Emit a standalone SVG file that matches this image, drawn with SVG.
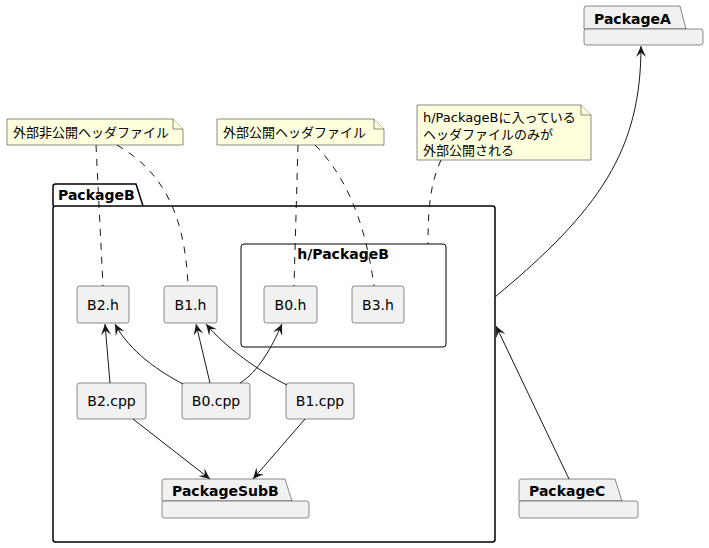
<svg xmlns="http://www.w3.org/2000/svg" width="709" height="548" viewBox="0 0 709 548">
<style>
.pkg{fill:#F1F1F1;stroke:#181818;stroke-width:0.5}
.pkgb{fill:none;stroke:#000;stroke-width:1.5}
.frame{fill:none;stroke:#000;stroke-width:1}
.node{fill:#F1F1F1;stroke:#181818;stroke-width:0.5}
.note{fill:#FEFFDD;stroke:#181818;stroke-width:0.5}
.t{font-family:"DejaVu Sans",sans-serif;font-size:14px;fill:#000}
.tc{text-anchor:middle}
.b{font-weight:bold}
.n{font-family:"DejaVu Sans","Noto Sans CJK JP",sans-serif;font-size:13px;fill:#000}
.arr{fill:none;stroke:#181818;stroke-width:1;marker-end:url(#ah)}
.dash{fill:none;stroke:#181818;stroke-width:1;stroke-dasharray:7,7}
</style>
<defs>
<marker id="ah" viewBox="0 0 11 10" refX="11" refY="5" markerWidth="11" markerHeight="10" markerUnits="userSpaceOnUse" orient="auto">
<path d="M0,0 L11,5 L0,10 L4.5,5 Z" fill="#181818"/>
</marker>
</defs>
<g id="PackageA">
<path class="pkg" d="M584,29 L584,8.5 Q584,6 586.5,6 L680,6 L686,29 Z"/>
<rect class="pkg" x="584" y="29" width="119" height="16" rx="2.5"/>
<text class="t b" x="594" y="24">PackageA</text>
</g>
<g id="PackageB">
<path class="pkgb" d="M53,206 L53,186.5 Q53,184 55.5,184 L136,184 L143,206"/>
<rect class="pkgb" x="53" y="206" width="442" height="336" rx="2.5"/>
<text class="t b" x="58" y="200">PackageB</text>
</g>
<g id="hPackageB">
<rect class="frame" x="241" y="244" width="205" height="103" rx="3"/>
<text class="t b tc" x="343" y="259">h/PackageB</text>
</g>
<g id="B2h"><rect class="node" x="77" y="286" width="52" height="37" rx="2.5"/><text class="t tc" x="103" y="309.5">B2.h</text></g>
<g id="B1h"><rect class="node" x="164" y="286" width="53" height="37" rx="2.5"/><text class="t tc" x="190.5" y="309.5">B1.h</text></g>
<g id="B0h"><rect class="node" x="264" y="286" width="53" height="37" rx="2.5"/><text class="t tc" x="290.5" y="309.5">B0.h</text></g>
<g id="B3h"><rect class="node" x="352" y="286" width="52" height="37" rx="2.5"/><text class="t tc" x="378" y="309.5">B3.h</text></g>
<g id="B2cpp"><rect class="node" x="77" y="383" width="69" height="36" rx="2.5"/><text class="t tc" x="111.5" y="406">B2.cpp</text></g>
<g id="B0cpp"><rect class="node" x="182" y="383" width="68" height="36" rx="2.5"/><text class="t tc" x="216" y="406">B0.cpp</text></g>
<g id="B1cpp"><rect class="node" x="286" y="383" width="68" height="36" rx="2.5"/><text class="t tc" x="320" y="406">B1.cpp</text></g>
<g id="PackageSubB">
<path class="pkg" d="M162,501 L162,481.5 Q162,479 164.5,479 L285,479 L292,501 Z"/>
<rect class="pkg" x="162" y="501" width="147" height="17" rx="2.5"/>
<text class="t b" x="172" y="496">PackageSubB</text>
</g>
<g id="PackageC">
<path class="pkg" d="M519,501 L519,481.5 Q519,479 521.5,479 L615,479 L622,501 Z"/>
<rect class="pkg" x="519" y="501" width="119" height="17" rx="2.5"/>
<text class="t b" x="529" y="496">PackageC</text>
</g>
<g id="note1">
<path class="note" d="M7,119 L7,145 L183,145 L183,129 L173,119 Z"/>
<path class="note" d="M173,119 L173,129 L183,129"/>
<text class="n" x="13" y="137">外部非公開ヘッダファイル</text>
</g>
<g id="note2">
<path class="note" d="M217,119 L217,145 L384,145 L384,129 L374,119 Z"/>
<path class="note" d="M374,119 L374,129 L384,129"/>
<text class="n" x="223" y="137">外部公開ヘッダファイル</text>
</g>
<g id="note3">
<path class="note" d="M417,105 L417,160 L591,160 L591,115 L581,105 Z"/>
<path class="note" d="M581,105 L581,115 L591,115"/>
<text class="n" x="423" y="122">h/PackageBに入っている</text>
<text class="n" x="423" y="138.5">ヘッダファイルのみが</text>
<text class="n" x="423" y="155">外部公開される</text>
</g>
<g id="connectors">
<path class="dash" d="M96,145 L103,286"/>
<path class="dash" d="M117,145 C160,170 185,210 188,286"/>
<path class="dash" d="M298,145 L294,286"/>
<path class="dash" d="M315,145 C345,175 365,220 374,286"/>
<path class="dash" d="M441,160 C432,180 428,200 428,244"/>
<path class="arr" d="M110,383 L105,324"/>
<path class="arr" d="M183,384 C160,372 130,352 115,324"/>
<path class="arr" d="M210,383 L196,324"/>
<path class="arr" d="M287,385 C260,372 225,347 206,324"/>
<path class="arr" d="M240,383 C258,372 272,347 282,324"/>
<path class="arr" d="M133,419 L210,479"/>
<path class="arr" d="M305,419 L253,479"/>
<path class="arr" d="M495,297 C600,210 641,150 641,46"/>
<path class="arr" d="M569,479 L496,326"/>
</g>
</svg>
